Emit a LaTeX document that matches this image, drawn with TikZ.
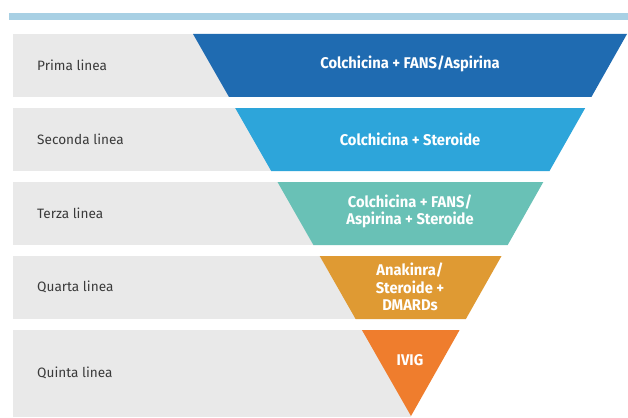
\documentclass[tikz,border=0pt]{standalone}
\usepackage{fontspec}
\setmainfont{Fira Sans}
\newfontfamily\stepfont[FakeStretch=0.95]{Fira Sans}

\definecolor{barblue}{HTML}{A8D0E4}
\definecolor{rowgrey}{HTML}{E9E9E9}
\definecolor{labelgrey}{HTML}{3A3A3A}
\definecolor{primacol}{HTML}{1F6BB1}
\definecolor{secondacol}{HTML}{2DA5DA}
\definecolor{terzacol}{HTML}{69C1B6}
\definecolor{quartacol}{HTML}{DF9A33}
\definecolor{quintacol}{HTML}{EF7D2D}

\begin{document}
\begin{tikzpicture}[x=1pt, y=-1pt,
    rowlabel/.style={anchor=west, text=labelgrey, inner sep=0pt,
        font=\fontsize{13.6}{16}\selectfont},
    steptext/.style={text=white, align=center, inner sep=0pt,
        font=\stepfont\bfseries\fontsize{15.5}{17.2}\selectfont}]

        % Page and its margins.
        \fill[white] (0, 0) rectangle (628, 417);
        \useasboundingbox (0, 0) rectangle (628, 417);

        % Light blue bar on top.
        \fill[barblue] (9, 13) rectangle (628, 20);

        % Grey bands, one per line of therapy.
        \fill[rowgrey] (13,  34) rectangle (411,  97);
        \fill[rowgrey] (13, 108) rectangle (411, 171);
        \fill[rowgrey] (13, 182) rectangle (411, 245);
        \fill[rowgrey] (13, 256) rectangle (411, 319);
        \fill[rowgrey] (13, 330) rectangle (411, 417);

        % The funnel, cut into five slices.
        \fill[primacol]   (193.0,  34) -- (627.0,  34) -- (591.4,  97) -- (229.0,  97) -- cycle;
        \fill[secondacol] (235.2, 108) -- (585.2, 108) -- (549.5, 171) -- (271.2, 171) -- cycle;
        \fill[terzacol]   (277.5, 182) -- (543.3, 182) -- (507.7, 245) -- (313.4, 245) -- cycle;
        \fill[quartacol]  (319.7, 256) -- (501.5, 256) -- (465.9, 319) -- (355.6, 319) -- cycle;
        \fill[quintacol]  (361.9, 330) -- (459.6, 330) -- (411.0, 416) -- cycle;

        % Labels on the left.
        \node[rowlabel] (prima)   at (37,  65) {Prima linea};
        \node[rowlabel] (seconda) at (37, 139) {Seconda linea};
        \node[rowlabel] (terza)   at (37, 213) {Terza linea};
        \node[rowlabel] (quarta)  at (37, 287) {Quarta linea};
        \node[rowlabel] (quinta)  at (37, 373) {Quinta linea};

        % Therapies inside the funnel.
        \node[steptext] (colfans)    at (410,  64) {Colchicina + FANS/Aspirina};
        \node[steptext] (colster)    at (410, 139) {Colchicina + Steroide};
        \node[steptext] (colfanster) at (410, 211) {Colchicina + FANS/\\Aspirina + Steroide};
        \node[steptext] (anakinra)   at (410, 287) {Anakinra/\\Steroide +\\DMARDs};
        \node[steptext] (ivig)       at (410, 360) {IVIG};
    \end{tikzpicture}
\end{document}
